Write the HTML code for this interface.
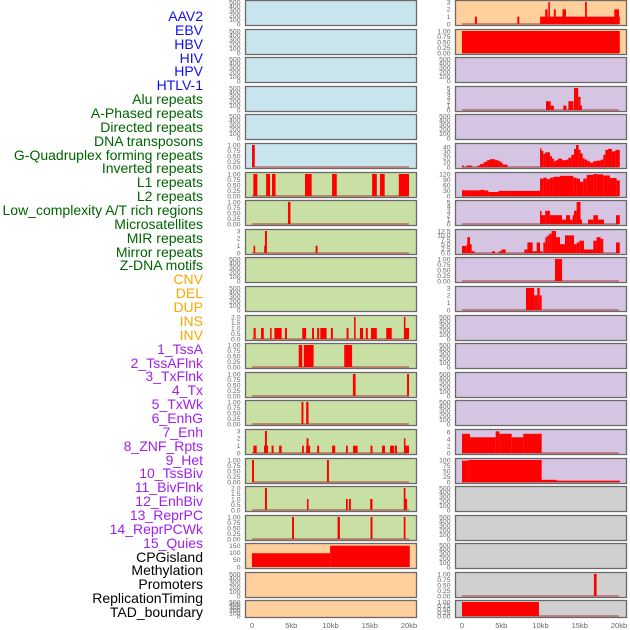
<!DOCTYPE html>
<html><head><meta charset="utf-8">
<style>
body{margin:0;background:#fff;width:630px;height:630px;overflow:hidden;font-family:"Liberation Sans",sans-serif}
#labels div{position:absolute;right:427px;font-size:14px;line-height:14px;white-space:nowrap}
</style></head>
<body>
<div id="labels"></div>
<svg id="chart" width="630" height="630" style="position:absolute;left:0;top:0"></svg>
<script>
const trackNames=["AAV2","EBV","HBV","HIV","HPV","HTLV-1","Alu repeats","A-Phased repeats","Directed repeats","DNA transposons","G-Quadruplex forming repeats","Inverted repeats","L1 repeats","L2 repeats","Low_complexity A/T rich regions","Microsatellites","MIR repeats","Mirror repeats","Z-DNA motifs","CNV","DEL","DUP","INS","INV","1_TssA","2_TssAFlnk","3_TxFlnk","4_Tx","5_TxWk","6_EnhG","7_Enh","8_ZNF_Rpts","9_Het","10_TssBiv","11_BivFlnk","12_EnhBiv","13_ReprPC","14_ReprPCWk","15_Quies","CPGisland","Methylation","Promoters","ReplicationTiming","TAD_boundary"];
const trackGroups=[6,13,5,15,5];
const groupColors=["#1010f0","#006400","#ffa500","#a020f0","#000000"];
const xTickKb=[0,5,10,15,20];
const xTickLabels=["0","5kb","10kb","15kb","20kb"];
const tickSets={
 e:{max:500,v:[0,100,200,300,400,500],l:["0","100","200","300","400","500"]},
 u:{max:1,v:[0,0.25,0.5,0.75,1],l:["0.00","0.25","0.50","0.75","1.00"]},
 t:{max:3,v:[0,1,2,3],l:["0","1","2","3"]},
 d:{max:2,v:[0,0.5,1,1.5,2],l:["0.0","0.5","1.0","1.5","2.0"]},
 c:{max:155,v:[0,50,100,150],l:["0","50","100","150"]},
 f:{max:5,v:[0,1,2,3,4,5],l:["0","1","2","3","4","5"]},
 g:{max:45,v:[0,10,20,30,40],l:["0","10","20","30","40"]},
 h:{max:120,v:[0,30,60,90,120],l:["0","30","60","90","120"]},
 m:{max:12.5,v:[0,2.5,5,7.5,10,12.5],l:["0.0","2.5","5.0","7.5","10.0","12.5"]},
 s:{max:6.3,v:[0,2,4,6],l:["0","2","4","6"]},
 p:{max:100,v:[0,25,50,75,100],l:["0","25","50","75","100"]}
};
const leftTicks=["e","e","e","e","e","u","u","u","t","e","e","d","u","u","u","t","u","d","u","c","e","e"];
const rightTicks=["t","u","e","f","e","g","h","f","m","u","t","e","e","e","e","s","p","e","e","e","u","u"];
const leftBg=["b","b","b","b","b","b","g","g","g","g","g","g","g","g","g","g","g","g","g","o","o","o"];
const rightBg=["o","o","v","v","v","v","v","v","v","v","v","v","v","v","v","v","v","k","k","k","k","k"];
const leftSegs=[[],[],[],[],[],
[[0,0.35,1]],
[[0.17,0.68,1],[1.8,2.3,1],[2.55,3.0,1],[6.75,7.6,1],[10.2,10.8,1],[15.3,15.9,1],[16.3,16.9,1],[18.7,20,1]],
[[4.58,4.9,1]],
[[0.2,0.4,1],[1.55,1.75,1],[1.65,1.9,3],[8.1,8.35,1]],
[],[],
[[0.2,0.47,1],[1.15,1.5,1],[2.3,2.5,1],[2.85,3.78,1],[4.2,4.45,1],[6.4,6.9,1],[7.65,7.9,1],[8.3,8.55,1],[8.7,9.5,1],[10.05,10.3,1],[12.05,12.3,1],[13.0,13.2,2],[13.75,14.15,1],[14.5,14.75,1],[15.15,15.9,1],[17.1,17.8,1],[19.35,19.55,2],[19.55,20,1]],
[[5.95,6.4,1],[6.6,7.85,1],[11.75,12.75,1]],
[[12.85,13.2,1],[19.75,20,1]],
[[6.3,6.55,1],[6.9,7.2,1]],
[[0.17,0.6,1],[1.53,2.04,1],[1.65,1.9,3],[2.5,2.75,1],[3.45,3.78,1],[6.37,6.6,1],[6.9,7.4,1],[6.95,7.2,2],[8.3,8.55,1],[10.2,10.6,1],[11.97,12.2,1],[12.87,13.45,1],[15.1,15.35,1],[16.56,16.94,1],[17.58,18.1,1],[18.2,18.47,1],[19.35,19.55,2],[19.55,20,1]],
[[0,0.25,1],[9.55,9.8,1]],
[[1.65,1.9,2],[7.0,7.2,1],[11.97,12.2,1],[12.35,12.6,1],[15.05,15.35,1],[19.33,19.55,2],[19.55,19.75,1]],
[[5.1,5.35,1],[10.9,11.2,1],[15.1,15.35,1],[19.33,19.55,1]],
[[0,9.95,97],[9.95,20.1,150]],
[],[]];
const rightSegs=[
[[1.65,1.9,1],[7.05,7.3,1],[9.95,20.1,1],[10.6,10.9,2],[11.0,11.2,3],[11.7,11.95,2],[12.8,13.25,2],[15.67,15.9,3],[19.4,20,2]],
[[0,20.1,1]],
[],
[[10.7,11.3,2],[11.3,11.7,1],[12.9,13.3,1],[13.55,14.2,2],[14.27,14.8,5],[14.8,15.1,3],[15.1,15.25,1]],
[],
[[0,0.25,3],[0.6,1.25,3],[2.0,2.3,3],[2.3,2.7,6],[2.7,2.9,9],[2.9,3.2,11],[3.2,3.57,14],[3.57,4.2,16],[4.2,4.63,14],[4.63,4.92,12],[4.92,5.18,9],[5.18,5.8,5],
 [9.94,10.1,38],[10.1,10.36,33],[10.36,10.6,27],[10.6,11.2,30],[11.2,11.46,22],[11.46,11.7,17],[11.7,11.97,12],[11.97,12.23,14],[12.23,12.74,17],[12.74,13.25,14],[13.25,13.55,15],[13.55,13.93,19],[13.93,14.27,25],[14.27,14.52,37],[14.52,14.86,45],[14.86,15.1,35],[15.1,15.37,28],[15.37,15.63,18],[15.63,15.97,15],[15.97,16.3,12],[16.3,16.73,9],[16.73,17.15,12],[17.15,17.66,13],[17.66,18.0,15],[18.0,18.26,25],[18.26,18.6,35],[18.6,19.1,37],[19.1,19.53,32],[19.53,20.1,35]],
[[0,1.2,31],[1.2,2.3,31],[2.3,2.9,33],[2.9,3.36,30],[3.36,4.63,22],[4.63,5.7,28],[5.7,9.94,28],[9.94,10.36,95],[10.36,10.78,100],[10.78,11.2,92],[11.2,11.63,100],[11.63,12.48,105],[12.48,14.18,110],[14.18,14.6,100],[14.6,15.03,95],[15.03,15.45,78],[15.45,15.88,95],[15.88,16.73,115],[16.73,17.15,120],[17.15,18.0,118],[18.0,18.85,112],[18.85,19.7,98],[19.7,20.1,85]],
[[9.94,10.1,3],[10.1,10.6,2],[10.6,11.2,3],[11.2,12.74,2],[12.74,13.25,1],[13.25,13.76,2],[13.76,14.1,1],[14.1,14.27,2],[14.27,14.6,3],[14.6,15.1,5],[15.1,15.29,1],[16.05,16.73,1],[16.73,17.32,2],[17.32,18.09,1],[19.62,20.1,2]],
[[0,0.6,4],[0.6,0.68,5],[0.68,1.02,9],[1.02,1.23,5],[1.23,1.61,1],[3.82,4.2,1],[4.71,5.01,1],[5.01,5.56,2],[7.94,8.33,2],[8.33,9.0,6],[9.0,9.51,1],[9.51,9.94,6],[9.94,10.27,1],[10.36,10.61,6],[10.61,10.87,9],[10.87,11.12,10],[11.12,11.42,11],[11.42,11.97,12.5],[11.97,12.48,9],[12.48,13.12,5],[13.12,13.76,10],[13.76,14.27,10],[14.27,14.61,5],[14.61,14.95,6],[14.95,15.54,7],[15.54,15.71,2],[15.71,16.73,2],[16.73,17.15,7],[17.15,17.66,9],[17.66,18.0,8],[19.62,20.1,6]],
[[11.85,12.75,1]],
[[8.15,9.2,3],[9.2,9.6,2],[9.6,9.9,3],[9.9,10.15,2]],
[],[],[],[],
[[0,1.02,5.5],[1.02,4.29,4.5],[4.29,4.76,6.2],[4.76,6.33,5.5],[6.33,7.81,4.5],[7.81,10.15,5.5]],
[[0,0.81,97],[0.81,10.15,100],[10.15,12.06,10],[12.06,20.13,6]],
[],[],[],
[[16.8,17.15,1]],
[[0,9.8,1]]];
</script>
<script>
const NS="http://www.w3.org/2000/svg";
const svg=document.getElementById('chart');
const bgColors={b:"#c8e4ec",g:"#c8e0a4",o:"#ffd09c",v:"#d6c5e2",k:"#d0d0d0"};
function mk(tag,attrs,parent){const e=document.createElementNS(NS,tag);for(const k in attrs)e.setAttribute(k,attrs[k]);(parent||svg).appendChild(e);return e;}
const lab=document.getElementById('labels');
let idx=0;
trackGroups.forEach((n,g)=>{for(let i=0;i<n;i++){const d=document.createElement('div');


d.textContent=trackNames[idx];d.style.color=groupColors[g];d.style.top=(9+idx*13.86)+'px';lab.appendChild(d);idx++;}});
function rowTop(i){return i<21?Math.round(i*28.6):600;}
function rowH(i){return i<21?25:17;}
function drawPanel(side,i){
 const x0=side==='L'?245.5:455.5, w=171;
 const zeroX=x0+6.5, kbPx=7.85;
 const xs=kb=>zeroX+kb*kbPx;
 const top=rowTop(i)+0.5,h=rowH(i);
 const tk=tickSets[(side==='L'?leftTicks:rightTicks)[i]];
 const ys=v=>top+h-1.5-(v/tk.max)*(h-3);
 const g=mk('g',{});
 
 
 mk('rect',{x:x0,y:top,width:w,height:h,fill:bgColors[(side==='L'?leftBg:rightBg)[i]]},g);
 const segs=(side==='L'?leftSegs:rightSegs)[i];
 if(segs.length && !(side==='L'&&i===19)){
  mk('line',{x1:xs(0),x2:xs(20),y1:ys(0),y2:ys(0),stroke:"#b04040","stroke-width":1.5,opacity:0.7},g);
 }
 segs.forEach(s=>{const r=mk('rect',{x:xs(s[0]),y:ys(s[2]),width:Math.max(1.5,xs(s[1])-xs(s[0])),height:ys(0)-ys(s[2]),fill:"#ff0000"},g);
 
 });
 mk('rect',{x:x0,y:top,width:w,height:h,fill:"none",stroke:"#6a6a6a","stroke-width":1.3},g);
 tk.v.forEach((v,j)=>{const t=mk('text',{x:x0-5,y:ys(v)+2.3,"font-size":6.8,"text-anchor":"end",fill:"#666","font-family":"Liberation Sans, sans-serif"},g);t.textContent=tk.l[j];
 
 });
}
for(let i=0;i<22;i++){drawPanel('L',i);drawPanel('R',i);}
['L','R'].forEach(side=>{const zeroX=(side==='L'?245.5:455.5)+6.5;
 xTickKb.forEach((k,j)=>{const t=mk('text',{x:zeroX+k*7.85,y:628,"font-size":7.5,"text-anchor":"middle",fill:"#666","font-family":"Liberation Sans, sans-serif"});t.textContent=xTickLabels[j];
 
 });});
</script>
</body></html>
